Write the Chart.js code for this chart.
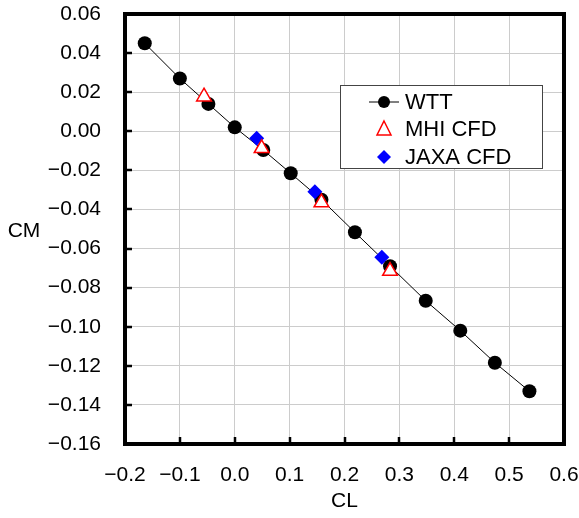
<!DOCTYPE html>
<html>
<head>
<meta charset="utf-8">
<script src="https://cdn.jsdelivr.net/npm/chart.js@4"></script>
<style>
  html, body { margin: 0; padding: 0; background: #fff; }
  canvas { display: block; }
</style>
</head>
<body>
<canvas id="chart" width="579" height="518"></canvas>
<script>
// WTT data (CL, CM)
const wttCL = [-0.164, -0.100, -0.048, 0.000, 0.052, 0.102, 0.158, 0.219, 0.283, 0.348, 0.411, 0.474, 0.537];
const wttCM = [0.045, 0.027, 0.014, 0.002, -0.0096, -0.0215, -0.035, -0.0517, -0.069, -0.0867, -0.102, -0.1184, -0.133];

// MHI CFD
const mhiCL = [-0.056, 0.049, 0.158, 0.283];
const mhiCM = [0.0177, -0.0087, -0.0365, -0.0715];

// JAXA CFD
const jaxaCL = [0.040, 0.146, 0.268];
const jaxaCM = [-0.0036, -0.0309, -0.0645];

// axis ticks
const xTicks = [-0.2, -0.1, 0.0, 0.1, 0.2, 0.3, 0.4, 0.5, 0.6];
const yTicks = [0.06, 0.04, 0.02, 0.00, -0.02, -0.04, -0.06, -0.08, -0.10, -0.12, -0.14, -0.16];

const FONT = '"Liberation Sans", Arial, sans-serif';

function pts(xs, ys) {
    return xs.map((x, i) => ({ x: x, y: ys[i] }));
}

function fmt(v, d) {
    const s = Math.abs(v).toFixed(d);
    return v < -1e-9 ? '\u2212' + s : s;
}

// frame, inward ticks, titles and legend
const decorations = {
    id: 'decorations',
    afterDraw(chart) {
        const ctx = chart.ctx;
        const a = chart.chartArea;
        const xs = chart.scales.x, ys = chart.scales.y;
        ctx.save();

        // inward tick marks
        ctx.strokeStyle = '#000';
        ctx.lineWidth = 2.5;
        ctx.beginPath();
        xTicks.forEach(v => {
            const px = Math.round(xs.getPixelForValue(v));
            ctx.moveTo(px, a.bottom);
            ctx.lineTo(px, a.bottom - 7);
        });
        yTicks.forEach(v => {
            const py = Math.round(ys.getPixelForValue(v));
            ctx.moveTo(a.left, py);
            ctx.lineTo(a.left + 7, py);
        });
        ctx.stroke();

        // thick frame
        ctx.lineWidth = 4;
        ctx.strokeRect(a.left, a.top, a.right - a.left, a.bottom - a.top);

        // axis titles
        ctx.fillStyle = '#000';
        ctx.font = '21px ' + FONT;
        ctx.textAlign = 'center';
        ctx.textBaseline = 'middle';
        ctx.fillText('CM', 24, 231);
        ctx.fillText('CL', (a.left + a.right) / 2, 501);

        // legend
        const lx = 340, ly = 85, lw = 202, lh = 83;
        ctx.fillStyle = '#fff';
        ctx.fillRect(lx, ly, lw, lh);
        ctx.strokeStyle = '#444';
        ctx.lineWidth = 1;
        ctx.strokeRect(lx + 0.5, ly + 0.5, lw, lh);

        const sx = 384;
        const rows = [102, 129, 157];
        // WTT
        ctx.strokeStyle = '#000';
        ctx.lineWidth = 1;
        ctx.beginPath();
        ctx.moveTo(369, rows[0]);
        ctx.lineTo(399, rows[0]);
        ctx.stroke();
        ctx.fillStyle = '#000';
        ctx.beginPath();
        ctx.arc(sx, rows[0], 6, 0, Math.PI * 2);
        ctx.fill();
        // MHI
        ctx.strokeStyle = '#ff0000';
        ctx.lineWidth = 1.5;
        ctx.fillStyle = '#fff';
        ctx.beginPath();
        ctx.moveTo(sx, rows[1] - 8);
        ctx.lineTo(sx + 7, rows[1] + 6);
        ctx.lineTo(sx - 7, rows[1] + 6);
        ctx.closePath();
        ctx.fill();
        ctx.stroke();
        // JAXA
        ctx.fillStyle = '#0000ff';
        ctx.beginPath();
        ctx.moveTo(sx, rows[2] - 7);
        ctx.lineTo(sx + 7, rows[2]);
        ctx.lineTo(sx, rows[2] + 7);
        ctx.lineTo(sx - 7, rows[2]);
        ctx.closePath();
        ctx.fill();

        ctx.fillStyle = '#000';
        ctx.font = '22px ' + FONT;
        ctx.textAlign = 'left';
        ctx.textBaseline = 'middle';
        ctx.fillText('WTT', 405, rows[0] + 1);
        ctx.fillText('MHI CFD', 405, rows[1] + 1);
        ctx.fillText('JAXA CFD', 405, rows[2] + 1);

        ctx.restore();
    }
};

new Chart(document.getElementById('chart'), {
    type: 'scatter',
    data: {
        datasets: [
            {
                label: 'WTT',
                data: pts(wttCL, wttCM),
                showLine: true,
                borderColor: '#000',
                borderWidth: 1,
                backgroundColor: '#000',
                pointBackgroundColor: '#000',
                pointBorderColor: '#000',
                pointRadius: 7,
                pointBorderWidth: 0,
                pointStyle: 'circle',
                order: 3
            },
            {
                label: 'JAXA CFD',
                data: pts(jaxaCL, jaxaCM),
                showLine: false,
                pointBackgroundColor: '#0000ff',
                pointBorderColor: '#0000ff',
                pointRadius: 7.5,
                pointBorderWidth: 0,
                pointStyle: 'rectRot',
                order: 2
            },
            {
                label: 'MHI CFD',
                data: pts(mhiCL, mhiCM),
                showLine: false,
                pointBackgroundColor: '#fff',
                pointBorderColor: '#ff0000',
                pointRadius: 8.5,
                pointBorderWidth: 1.5,
                pointStyle: 'triangle',
                order: 1
            }
        ]
    },
    options: {
        responsive: false,
        animation: false,
        layout: { padding: { top: 14, right: 15, left: 0, bottom: 0 } },
        plugins: {
            legend: { display: false },
            tooltip: { enabled: false }
        },
        scales: {
            x: {
                type: 'linear',
                min: -0.2,
                max: 0.6,
                afterBuildTicks: s => { s.ticks = xTicks.map(v => ({ value: v })); },
                afterFit: s => {
                    s.height = 74;
                    s.paddingLeft = 0;
                    s.paddingRight = 0;
                },
                grid: { color: '#cccccc', lineWidth: 1, drawTicks: false },
                border: { display: false },
                ticks: {
                    padding: 19,
                    color: '#000',
                    font: { family: FONT, size: 21 },
                    callback: v => fmt(v, 1)
                }
            },
            y: {
                type: 'linear',
                min: -0.16,
                max: 0.06,
                afterBuildTicks: s => { s.ticks = yTicks.map(v => ({ value: v })); },
                afterFit: s => {
                    s.width = 125;
                    s.paddingTop = 0;
                    s.paddingBottom = 0;
                },
                grid: { color: '#cccccc', lineWidth: 1, drawTicks: false },
                border: { display: false },
                ticks: {
                    padding: 24,
                    color: '#000',
                    font: { family: FONT, size: 21 },
                    callback: v => fmt(v, 2)
                }
            }
        }
    },
    plugins: [decorations]
});
</script>
</body>
</html>
